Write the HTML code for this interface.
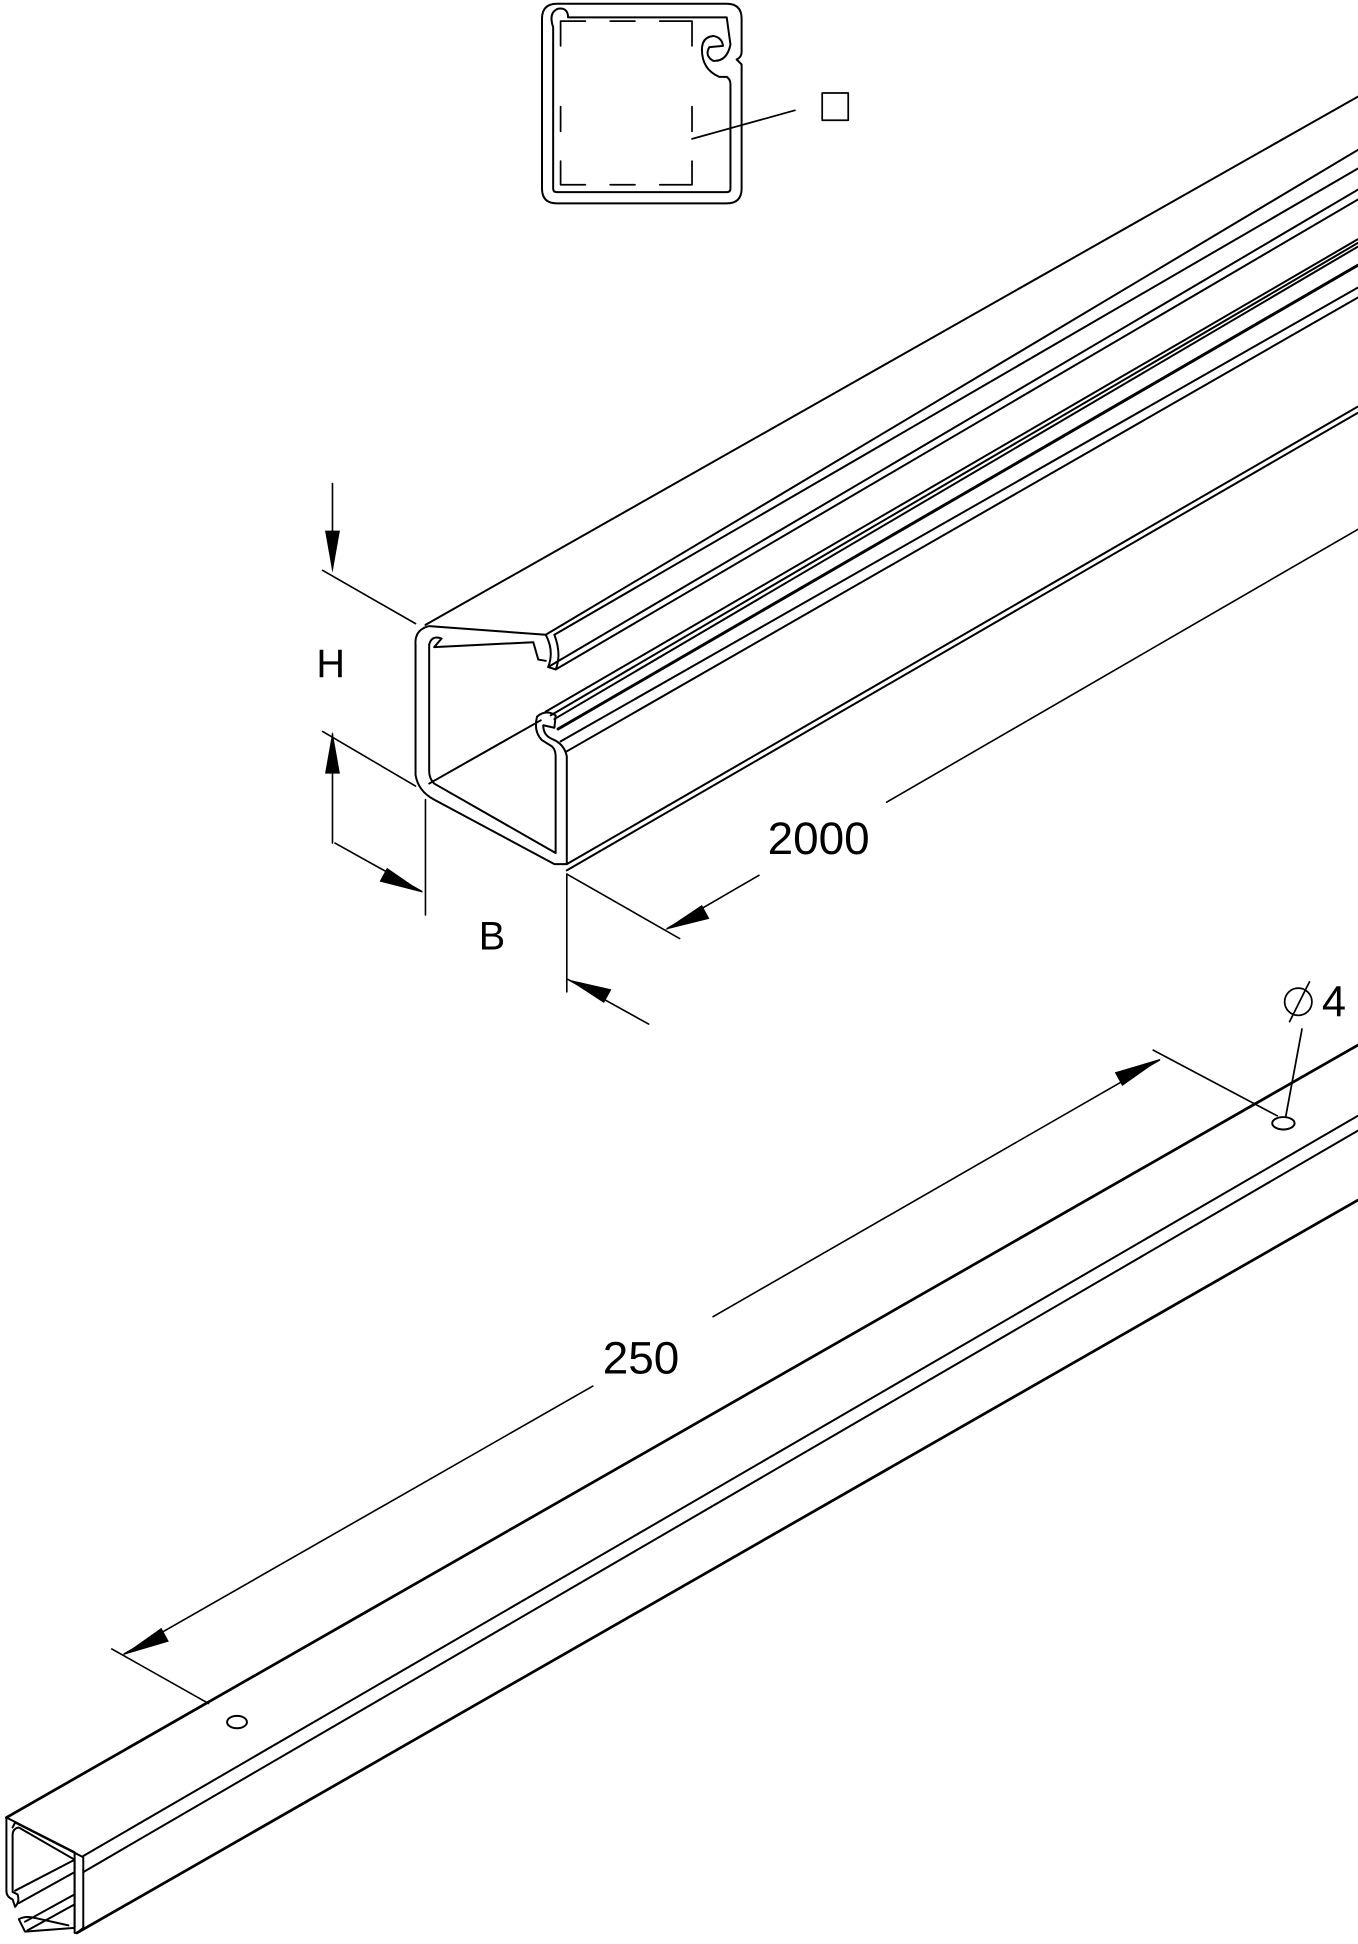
<!DOCTYPE html>
<html><head><meta charset="utf-8"><style>
html,body{margin:0;padding:0;background:#fff;}
svg{display:block;}
text{font-family:"Liberation Sans",sans-serif;fill:#000;}
</style></head><body>
<svg width="1358" height="1944" viewBox="0 0 1095 1568" xmlns="http://www.w3.org/2000/svg">
<g fill="none" stroke="#000" stroke-width="1.6" stroke-linejoin="round" stroke-linecap="round">
<path d="M437,15 Q437,3 449,3 L586,3 Q598,3 598,15 L598,42 Q598,46 594,48 L598,52 L598,152 Q598,164 586,164 L449,164 Q437,164 437,152 Z"/>
<path d="M446,22 Q442,10 450,7 Q458,6 458,14 L586,14 L589,36 Q586,50 575,49 Q568,45 572,38 L583,37 Q582,30 575,29 Q566,30 566,40 Q566,56 580,62 L586,62 Q589,64 589,68 L589,152 Q589,155 586,155 L449,155 Q446,155 446,152 Z"/>
<path d="M472,17 L452,17 L452,37 M452,86 L452,106 M452,130 L452,149 L472,149 M492,149 L512,149 M532,149 L558,149 L558,130 M558,106 L558,86 M558,37 L558,17 L532,17 M512,17 L492,17" stroke-width="1.4"/>
<line x1="558" y1="112" x2="641" y2="89" stroke-width="1.4"/>
<rect x="663" y="75" width="21" height="22" stroke-width="1.4"/>

<path d="M335,520 Q334,508 346,505 L440,512 Q447,525 442,538 L448,540 Q453,528 447,512"/>
<path d="M346,520 Q348,512 356,515 L350,522 L430,518 L434,532 L440,533"/>
<path d="M335,520 L335,625 Q337,638 350,645 L447,697 L457,697 L457,610 Q455,600 445,596 Q438,593 438,585 L447,587 L448,577 Q440,572 433,578 Q430,590 437,597 L445,602 Q448,605 448,610 L448,688 L350,632 Q346,628 346,622 L346,520"/>
<line x1="346" y1="632" x2="436" y2="581"/>
<line x1="343" y1="504" x2="1095" y2="78"/>
<line x1="440" y1="512" x2="1095" y2="121"/>
<line x1="447" y1="512" x2="1095" y2="136"/>
<line x1="442" y1="538" x2="1095" y2="153"/>
<line x1="448" y1="540" x2="1095" y2="161"/>
<line x1="440" y1="574" x2="1095" y2="193"/>
<line x1="444" y1="577" x2="1095" y2="196"/>
<line x1="447" y1="580" x2="1095" y2="199"/>
<line x1="450" y1="588" x2="1095" y2="214" stroke-width="2.4"/>
<line x1="452" y1="598" x2="1095" y2="232"/>
<line x1="457" y1="606" x2="1095" y2="240"/>
<line x1="457" y1="697" x2="1095" y2="328"/>
<line x1="457" y1="702" x2="1095" y2="333"/>
<line x1="268" y1="390" x2="268" y2="458" stroke-width="1.3"/>
<polygon points="268,462 262,428 274,428" fill="#000" stroke="none"/>
<line x1="260" y1="460" x2="335" y2="503" stroke-width="1.3"/>
<line x1="260" y1="590" x2="335" y2="634" stroke-width="1.3"/>
<line x1="268" y1="592" x2="268" y2="680" stroke-width="1.3"/>
<polygon points="268,590 262,624 274,624" fill="#000" stroke="none"/>
<line x1="343" y1="645" x2="343" y2="738" stroke-width="1.3"/>
<line x1="270" y1="680" x2="340" y2="719" stroke-width="1.3"/>
<polygon points="341,720 306,711 312,700" fill="#000" stroke="none"/>
<line x1="457" y1="705" x2="457" y2="800" stroke-width="1.3"/>
<line x1="458" y1="790" x2="523" y2="826" stroke-width="1.3"/>
<polygon points="458,790 493,798 487,809" fill="#000" stroke="none"/>
<line x1="457" y1="705" x2="548" y2="757" stroke-width="1.3"/>
<line x1="538" y1="749" x2="612" y2="706" stroke-width="1.3"/>
<line x1="715" y1="647" x2="1095" y2="427" stroke-width="1.3"/>
<polygon points="536,750 566,730 572,741" fill="#000" stroke="none"/>

<path d="M5,1466 L5,1525 Q5,1530 10,1532 L12,1538 Q16,1534 14,1528 L10,1526 L10,1480 Q10,1475 15,1474 L60,1500 L60,1555 L20,1558 L15,1548 Q20,1545 28,1547 L55,1553"/>
<path d="M5,1466 L60,1494 L60,1559 L62,1559" />
<path d="M10,1474 L12,1470 L67,1498 L67,1555 L62,1559"/>
<line x1="5" y1="1466" x2="1095" y2="843" stroke-width="2.2"/>
<line x1="62" y1="1559" x2="1095" y2="968" stroke-width="2.2"/>
<line x1="67" y1="1497" x2="1095" y2="900"/>
<line x1="67" y1="1510" x2="1095" y2="912"/>
<line x1="12" y1="1525" x2="60" y2="1500"/>
<line x1="15" y1="1535" x2="60" y2="1510"/>
<line x1="20" y1="1550" x2="60" y2="1528"/>
<line x1="22" y1="1557" x2="60" y2="1536"/>
<ellipse cx="191" cy="1389" rx="8" ry="5"/>
<ellipse cx="1035" cy="906" rx="9" ry="5"/>
<line x1="90" y1="1330" x2="168" y2="1374" stroke-width="1.3"/>
<line x1="930" y1="847" x2="1030" y2="900" stroke-width="1.3"/>
<line x1="100" y1="1334" x2="478" y2="1118" stroke-width="1.3"/>
<line x1="575" y1="1062" x2="935" y2="855" stroke-width="1.3"/>
<polygon points="99,1335 130,1313 136,1324" fill="#000" stroke="none"/>
<polygon points="936,854 905,876 899,865" fill="#000" stroke="none"/>
<circle cx="1047" cy="808" r="11" stroke-width="1.4"/>
<line x1="1040" y1="824" x2="1056" y2="792" stroke-width="1.4"/>
<line x1="1050" y1="830" x2="1037" y2="900" stroke-width="1.4"/>
</g>
<text x="255" y="546" font-size="32">H</text>
<text x="386" y="766" font-size="32">B</text>
<text x="619" y="689" font-size="37">2000</text>
<text x="486" y="1108" font-size="37">250</text>
<text x="1066" y="820" font-size="35">4</text>
</svg>
</body></html>
